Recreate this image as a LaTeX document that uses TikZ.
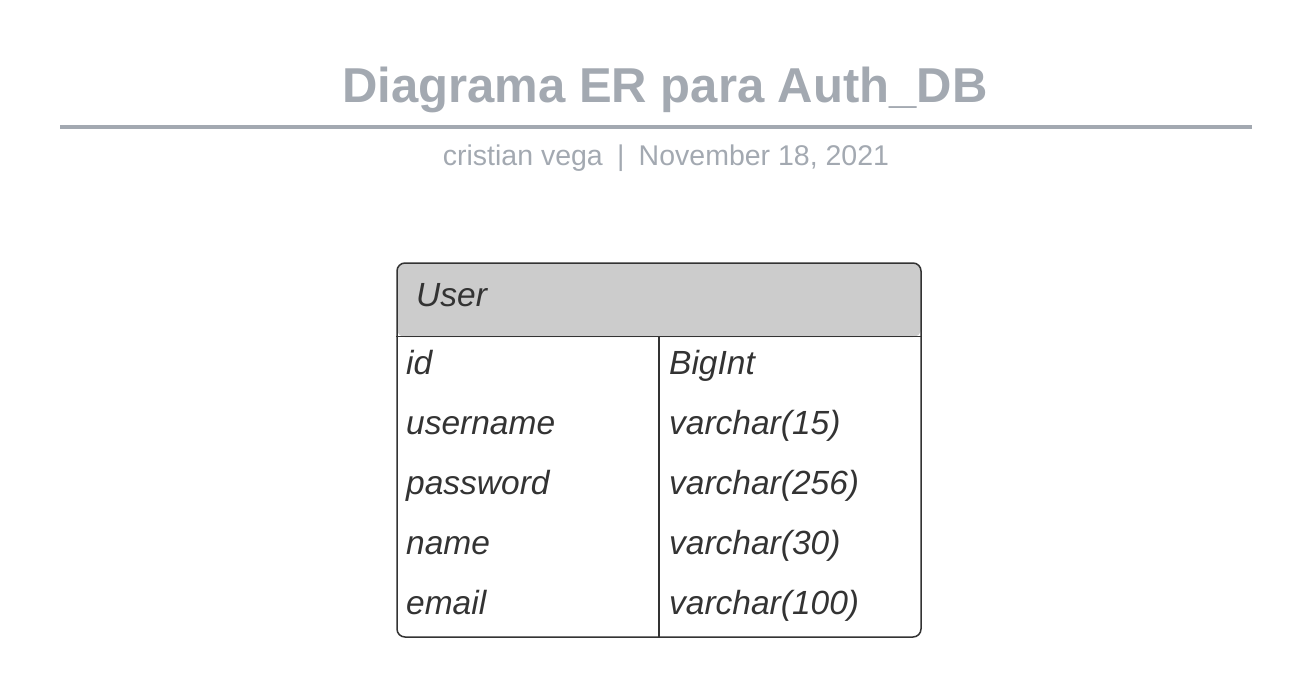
\documentclass[tikz,border=0pt]{standalone}
\usepackage{fontspec}
\setmainfont{Liberation Sans}
\usetikzlibrary{positioning}
\definecolor{titlegray}{HTML}{A3A9B1}
\definecolor{headgray}{HTML}{CCCCCC}
\definecolor{inkgray}{HTML}{333333}
\tikzset{
    entity/.style={
           rectangle,
           rounded corners=8pt,
           draw=inkgray, line width=1.5pt,
           inner sep=0pt,
           },
    field/.style={
           anchor=base west,
           inner sep=0pt,
           text=inkgray,
           font=\fontsize{33.5}{38}\selectfont\itshape,
           },
}

\begin{document}
\begin{tikzpicture}[x=1pt,y=-1pt]
  \useasboundingbox (0,0) rectangle (1307,681);

  % heading with rule and author line
  \node[anchor=base, inner sep=0pt, text=titlegray,
    font=\fontsize{49}{56}\selectfont\bfseries] (TITLE) at (665,102)
    {Diagrama ER para Auth\_DB};
  \draw[titlegray, line width=4pt] (60,127) coordinate (RULEL) -- (1252,127) coordinate (RULER);
  \node[anchor=base, inner sep=0pt, text=titlegray,
    font=\fontsize{28.5}{33}\selectfont] (AUTHOR) at (666,165)
    {cristian vega\hspace{0.5em}|\hspace{0.5em}November 18, 2021};

  % the table, header filled inside the rounded box
  \node[entity,
    minimum width=524pt,
    minimum height=374pt,
    path picture={\fill[headgray] (path picture bounding box.north west)
      rectangle ([yshift=-74pt]path picture bounding box.north east);}
    ] (USER) at (659,450) {};
  \draw[inkgray, line width=1.5pt] ([yshift=-74pt]USER.north west) -- ([yshift=-74pt]USER.north east);
  \draw[inkgray, line width=1.5pt] ([yshift=-74pt]USER.north) -- (USER.south);

  \node[field] (HEAD) at (416,306) {User};

  % rows: name and type
  \node[field] (IDN)   at (406,374) {id};
  \node[field] (IDT)   at (669,374) {BigInt};
  \node[field] (USRN)  at (406,434) {username};
  \node[field] (USRT)  at (669,434) {varchar(15)};
  \node[field] (PWDN)  at (406,494) {password};
  \node[field] (PWDT)  at (669,494) {varchar(256)};
  \node[field] (NAMEN) at (406,554) {name};
  \node[field] (NAMET) at (669,554) {varchar(30)};
  \node[field] (MAILN) at (406,614) {email};
  \node[field] (MAILT) at (669,614) {varchar(100)};
\end{tikzpicture}
\end{document}
